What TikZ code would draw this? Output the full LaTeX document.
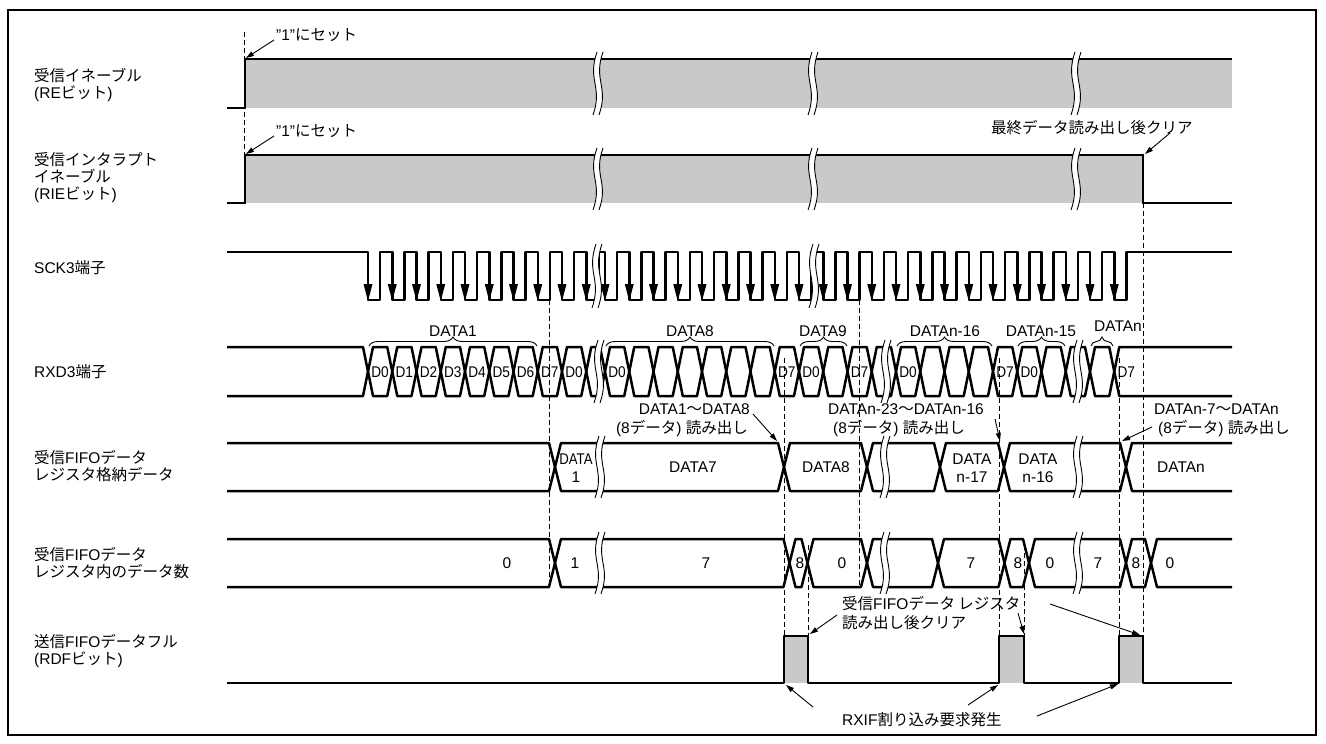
\documentclass[tikz,border=0pt]{standalone}
\usepackage{fontspec}
\usepackage{graphicx}
\setmainfont{Liberation Sans}
\newfontfamily\jp{Noto Sans CJK JP}
\usetikzlibrary{arrows.meta,decorations.pathreplacing}
\definecolor{bargray}{RGB}{200,201,203}
\newcommand\J[1]{{\jp #1}}
\newcommand\dl[1]{\scalebox{0.88}[1]{#1}}
% hexagonal bus cell: x1, x2, ytop, ybot, half crossing width
\newcommand\hexcell[5]{\draw[sig] (#1,{(#3+#4)/2}) -- ({#1+#5},#3) -- ({#2-#5},#3) -- (#2,{(#3+#4)/2}) -- ({#2-#5},#4) -- ({#1+#5},#4) -- cycle;}
% break mark: x, ytop, ybot
\newcommand\brkmark[3]{%
 \fill[white] ({#1-1},#2) .. controls ({#1-11},{#2+0.45*(#3-#2)}) and ({#1+5},{#3-0.45*(#3-#2)}) .. ({#1-5},#3) -- ({#1+1},#3) .. controls ({#1+11},{#3-0.45*(#3-#2)}) and ({#1-5},{#2+0.45*(#3-#2)}) .. ({#1+5},#2) -- cycle;
 \draw[brkl] ({#1-1},#2) .. controls ({#1-11},{#2+0.45*(#3-#2)}) and ({#1+5},{#3-0.45*(#3-#2)}) .. ({#1-5},#3);
 \draw[brkl] ({#1+5},#2) .. controls ({#1-5},{#2+0.45*(#3-#2)}) and ({#1+11},{#3-0.45*(#3-#2)}) .. ({#1+1},#3);}
\begin{document}
\begin{tikzpicture}[x=1pt,y=-1pt,font=\fontsize{15.5}{18}\selectfont,
  sig/.style={line width=2.5pt,line join=round},
  barl/.style={line width=1.4pt},
  brkl/.style={line width=0.9pt},
  dsh/.style={line width=0.9pt,dash pattern=on 4.5pt off 3.5pt},
  ann/.style={line width=0.9pt,-{Triangle[length=8pt,width=5pt]}},
  brc/.style={line width=0.9pt,decorate,decoration={brace,amplitude=9pt}},
  lbl/.style={anchor=west,inner sep=0pt,text height=13pt,text depth=2pt},
  ctr/.style={inner sep=0pt,text height=13pt,text depth=2pt}]
\useasboundingbox (0,0) rectangle (1326,744);
\fill[white] (0,0) rectangle (1326,744);
\draw[line width=1.6pt] (8,10) rectangle (1316,735);

% ---------- left labels ----------
\node[lbl] (lre1) at (34,76) {\J{受信イネーブル}};
\node[lbl] (lre2) at (34,93) {(RE\J{ビット})};
\node[lbl] (lri1) at (34,160) {\J{受信インタラプト}};
\node[lbl] (lri2) at (34,177) {\J{イネーブル}};
\node[lbl] (lri3) at (34,194) {(RIE\J{ビット})};
\node[lbl] (lsck) at (34,268) {SCK3\J{端子}};
\node[lbl] (lrxd) at (34,372) {RXD3\J{端子}};
\node[lbl] (lff1) at (34,458) {\J{受信}FIFO\J{データ}};
\node[lbl] (lff2) at (34,475) {\J{レジスタ格納データ}};
\node[lbl] (lcn1) at (34,555) {\J{受信}FIFO\J{データ}};
\node[lbl] (lcn2) at (34,572) {\J{レジスタ内のデータ数}};
\node[lbl] (lrd1) at (34,642) {\J{送信}FIFO\J{データフル}};
\node[lbl] (lrd2) at (34,659) {(RDF\J{ビット})};

% ---------- dashed guide lines ----------
\draw[dsh] (244,32) -- (244,155);
\draw[dsh] (549.75,300) -- (549.75,587);
\draw[dsh] (784,358) -- (784,636);
\draw[dsh] (808,545) -- (808,636);
\draw[dsh] (859.5,300) -- (859.5,587);
\draw[dsh] (999,358) -- (999,636);
\draw[dsh] (1024,545) -- (1024,636);
\draw[dsh] (1119,358) -- (1119,636);
\draw[dsh] (1143,203) -- (1143,636);

% ---------- RE ----------
\fill[bargray] (245,59) rectangle (1232,108);
\draw[barl] (227,108) -- (245,108) -- (245,59) -- (1232,59);
% ---------- RIE ----------
\fill[bargray] (245,155) rectangle (1143,203);
\draw[barl] (227,203) -- (245,203) -- (245,155) -- (1143,155) -- (1143,203) -- (1232,203);
\foreach \bx in {598,813,1076}{\brkmark{\bx}{52}{115}\brkmark{\bx}{148}{210}}

% ---------- SCK ----------
\draw[sig] (227,252) foreach \k in {0,...,9}{ -- ({368+24.25*\k},252) -- ({368+24.25*\k},300) -- ({380+24.25*\k},300) -- ({380+24.25*\k},252)} -- (605,252)
  foreach \k in {0,...,21}{ -- ({605+24.25*\k},252) -- ({605+24.25*\k},300) -- ({617+24.25*\k},300) -- ({617+24.25*\k},252)} -- (1232,252);
\foreach \k in {0,...,9}{\fill ({368+24.25*\k-4.5},284) -- ({368+24.25*\k+4.5},284) -- ({368+24.25*\k},301) -- cycle;}
\foreach \k in {0,...,21}{\fill ({605+24.25*\k-4.5},284) -- ({605+24.25*\k+4.5},284) -- ({605+24.25*\k},301) -- cycle;}
\brkmark{597}{244}{308}
\brkmark{814}{244}{308}

% ---------- RXD ----------
\draw[sig] (227,347) -- (363,347) -- (368,371.5) -- (363,396) -- (227,396);
\foreach \k in {0,...,8}{\pgfmathsetmacro\xa{368+24.25*\k}\pgfmathsetmacro\xb{\xa+24.25}\hexcell{\xa}{\xb}{347}{396}{5}}
\hexcell{586.25}{605}{347}{396}{5}
\foreach \k in {0,...,20}{\pgfmathsetmacro\xa{605+24.25*\k}\pgfmathsetmacro\xb{\xa+24.25}\hexcell{\xa}{\xb}{347}{396}{5}}
\draw[sig] (1232,347) -- (1119.25,347) -- (1114.25,371.5) -- (1119.25,396) -- (1232,396);
\foreach \k/\t in {0/D0,1/D1,2/D2,3/D3,4/D4,5/D5,6/D6,7/D7,8/D0}{\node[ctr] (ra\k) at ({380.1+24.25*\k},372) {\dl{\t}};}
\foreach \k/\t in {0/D0,7/D7,8/D0,10/D7,12/D0,16/D7,17/D0,21/D7}{\node[ctr] (rb\k) at ({617.1+24.25*\k},372) {\dl{\t}};}
\brkmark{599}{340}{403}
\brkmark{886}{340}{403}
\brkmark{1078}{340}{403}

% braces
\draw[brc] (369,346) -- (537,346);
\draw[brc] (606,346) -- (774,346);
\draw[brc] (800,346) -- (847,346);
\draw[brc] (897,346) -- (992,346);
\draw[brc] (1018,346) -- (1065,346);
\draw[brc] (1091,346) -- (1113,346);
\node[ctr] (bd1) at (453,331) {DATA1};
\node[ctr] (bd8) at (690,331) {DATA8};
\node[ctr] (bd9) at (823,331) {DATA9};
\node[ctr] (bd16) at (945,331) {DATAn-16};
\node[ctr] (bd15) at (1041,331) {DATAn-15};
\node[ctr] (bdn) at (1118,326) {DATAn};

% ---------- FIFO data ----------
\draw[sig] (227,443) -- (549,443) -- (555,467) -- (549,491) -- (227,491);
\hexcell{555}{784}{443}{491}{6}
\hexcell{784}{867}{443}{491}{6}
\hexcell{867}{940}{443}{491}{6}
\hexcell{940}{1004}{443}{491}{6}
\hexcell{1004}{1126}{443}{491}{6}
\draw[sig] (1232,443) -- (1132,443) -- (1126,467) -- (1132,491) -- (1232,491);
\node[ctr] (fd1a) at (576,459) {\scalebox{0.85}[1]{DATA}};
\node[ctr] (fd1b) at (576,477) {1};
\node[ctr] (fd7) at (693,467) {DATA7};
\node[ctr] (fd8) at (826,467) {DATA8};
\node[ctr] (fd17a) at (972,459) {DATA};
\node[ctr] (fd17b) at (972,477) {n-17};
\node[ctr] (fd16a) at (1038,459) {DATA};
\node[ctr] (fd16b) at (1038,477) {n-16};
\node[ctr] (fdn) at (1181,467) {DATAn};

% ---------- FIFO count ----------
\draw[sig] (227,539) -- (549,539) -- (555,563) -- (549,587) -- (227,587);
\hexcell{555}{789.5}{539}{587}{6}
\hexcell{789.5}{807.5}{539}{587}{6}
\hexcell{807.5}{867}{539}{587}{6}
\hexcell{867}{938}{539}{587}{6}
\hexcell{938}{1004.5}{539}{587}{6}
\hexcell{1004.5}{1029}{539}{587}{6}
\hexcell{1029}{1126}{539}{587}{6}
\hexcell{1126}{1151}{539}{587}{6}
\draw[sig] (1232,539) -- (1157,539) -- (1151,563) -- (1157,587) -- (1232,587);
\foreach \x/\t [count=\i] in {507/0,575/1,706/7,800/8,842/0,971/7,1018/8,1050/0,1098/7,1136/8,1170/0}{\node[ctr] (cn\i) at (\x,563) {\t};}
\foreach \bx in {600,885,1078}{\brkmark{\bx}{436}{498}\brkmark{\bx}{532}{594}}

% ---------- RDF ----------
\fill[bargray] (784,636) rectangle (808,683);
\fill[bargray] (999,636) rectangle (1024,683);
\fill[bargray] (1119,636) rectangle (1143,683);
\draw[sig] (227,683) -- (784,683) -- (784,636) -- (808,636) -- (808,683) -- (999,683) -- (999,636) -- (1024,636) -- (1024,683) -- (1119,683) -- (1119,636) -- (1143,636) -- (1143,683) -- (1232,683);

% ---------- annotations ----------
\node[lbl] (set1) at (276,35) {"1"\J{にセット}};
\node[lbl] (set2) at (276,131) {"1"\J{にセット}};
\node[lbl] (clr) at (991,128) {\J{最終データ読み出し後クリア}};
\node[anchor=east,ctr] (r1a) at (750,409) {DATA1\J{〜}DATA8};
\node[anchor=east,ctr] (r1b) at (748,428) {(8\J{データ}) \J{読み出し}};
\node[lbl] (r2a) at (828,409) {DATAn-23\J{〜}DATAn-16};
\node[lbl] (r2b) at (833,428) {(8\J{データ}) \J{読み出し}};
\node[lbl] (r3a) at (1154,409) {DATAn-7\J{〜}DATAn};
\node[lbl] (r3b) at (1158,428) {(8\J{データ}) \J{読み出し}};
\node[lbl] (rc1) at (842,604) {\J{受信}FIFO\J{データ レジスタ}};
\node[lbl] (rc2) at (842,623) {\J{読み出し後クリア}};
\node[lbl] (rx) at (842,720) {RXIF\J{割り込み要求発生}};

\coordinate (s1a) at (274,40);   \coordinate (s1b) at (246,58);
\coordinate (s2a) at (274,136);  \coordinate (s2b) at (246,154);
\coordinate (c1a) at (1170,133); \coordinate (c1b) at (1145,154);
\coordinate (d1a) at (753,414);  \coordinate (d1b) at (777,441);
\coordinate (d2a) at (995,419);  \coordinate (d2b) at (1000,441);
\coordinate (d3a) at (1152,427); \coordinate (d3b) at (1122,441);
\coordinate (e1a) at (837,615);  \coordinate (e1b) at (810,634);
\coordinate (e2a) at (1018,613); \coordinate (e2b) at (1024,634);
\coordinate (e3a) at (1050,604); \coordinate (e3b) at (1140,635);
\coordinate (q1a) at (813,707);  \coordinate (q1b) at (786,685);
\coordinate (q2a) at (968,705);  \coordinate (q2b) at (998,685);
\coordinate (q3a) at (1037,716); \coordinate (q3b) at (1118,684);
\foreach \p in {s1,s2,c1,d1,d2,d3,e1,e2,e3,q1,q2,q3}{\draw[ann] (\p a) -- (\p b);}
\end{tikzpicture}
\end{document}
